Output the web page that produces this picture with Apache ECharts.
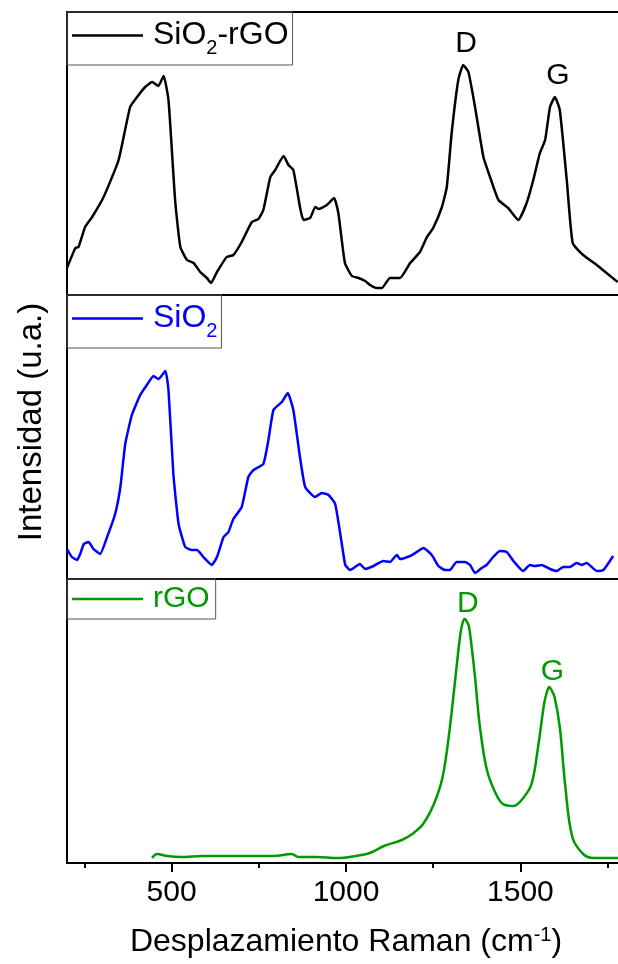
<!DOCTYPE html>
<html>
<head>
<meta charset="utf-8">
<script src="https://cdn.jsdelivr.net/npm/echarts@6/dist/echarts.min.js"></script>
<style>
  html, body { margin: 0; padding: 0; background: #fff; }
  #chart { width: 618px; height: 964px; }
</style>
</head>
<body>
<div id="chart"></div>
<script>
// Raman shift (cm-1) and intensity (a.u.)
const sio2rgoX = [200,224,233,252,272,305,348,381,401,424,444,462,477,491,510,525,544,563,582,601,613,630,658,677,701,730,749,763,783,797,821,835,849,868,878,897,912,921,945,966,978,997,1017,1036,1055,1069,1088,1103,1126,1155,1184,1212,1232,1250,1275,1289,1303,1322,1336,1351,1370,1394,1413,1437,1465,1494,1518,1537,1556,1571,1585,1599,1613,1633,1650,1680,1719,1747,1779];
const sio2rgoY = [27,47,48,68,78,98,135,188,198,208,213,209,219,195,95,48,35,32,23,17,12,23,38,40,53,73,76,85,118,125,139,130,125,88,75,77,88,86,90,97,82,32,19,17,14,10,7,7,17,17,32,43,58,67,88,108,162,215,230,223,188,138,118,95,87,75,92,115,142,155,188,198,185,115,52,40,30,22,13];

const sio2X = [200,214,229,238,248,262,276,295,315,338,353,367,386,410,429,448,462,482,491,505,520,539,558,573,591,615,630,649,663,677,701,720,735,763,778,792,816,833,849,868,883,911,931,950,969,988,998,1012,1040,1055,1079,1107,1126,1146,1155,1184,1203,1222,1246,1265,1284,1298,1317,1341,1356,1370,1389,1403,1422,1441,1461,1480,1508,1527,1542,1561,1585,1604,1623,1642,1661,1676,1690,1719,1738,1766];
const sio2Y = [30,22,19,25,35,37,30,25,42,65,92,135,164,184,194,203,200,208,189,105,55,32,29,29,22,14,22,42,47,60,72,102,109,115,140,169,177,186,169,122,92,82,86,84,75,35,14,9,15,10,13,18,17,24,20,23,27,31,24,13,9,9,17,17,14,6,11,14,22,28,27,18,8,14,13,14,10,8,12,12,16,14,16,8,9,23];

const rgoX = [444,458,487,528,589,660,732,793,844,864,915,976,1027,1068,1109,1160,1190,1221,1252,1277,1297,1313,1328,1335,1341,1347,1353,1369,1384,1404,1430,1450,1481,1506,1532,1552,1568,1577,1583,1589,1598,1613,1629,1649,1680,1710,1741,1780];
const rgoY = [5,9,7,6,7,7,7,7,9,6,6,5,7,10,17,23,29,39,59,86,133,183,229,241,244,241,236,189,136,93,69,59,57,64,79,119,159,172,176,173,166,136,76,26,9,5,5,5];

// peak labels: [label, index of the peak point]
const sio2rgoPeaks = [['D', 58], ['G', 71]];
const rgoPeaks = [['D', 24], ['G', 38]];

const majorTicks = [500, 1000, 1500];
const minorTicks = [250, 750, 1250, 1750];
const xMin = 200, xMax = 1800;

const FONT = 'Arial, "Liberation Sans", sans-serif';
const cBlack = '#000000', cBlue = '#0000ff', cGreen = '#009900';

function zip(xs, ys) {
    return xs.map(function (x, i) { return [x, ys[i]]; });
}

function peakPoints(xs, ys, peaks, dist) {
    return peaks.map(function (p) {
        return {
            name: p[0],
            coord: [xs[p[1]], ys[p[1]]],
            label: { distance: dist }
        };
    });
}

function legendFor(name, color, top, pad, size) {
    return {
        show: true,
        selectedMode: false,
        left: 67,
        top: top,
        orient: 'horizontal',
        padding: pad,
        borderColor: '#555',
        borderWidth: 1,
        icon: 'rect',
        itemWidth: 71,
        itemHeight: 2.5,
        data: [name],
        formatter: function (n) {
            if (n === 'SiO2-rGO') return '{m|SiO}{s|2}{m|-rGO}';
            if (n === 'SiO2') return '{m|SiO}{s|2}';
            return '{m|' + n + '}';
        },
        textStyle: {
            color: color,
            fontFamily: FONT,
            fontSize: size,
            padding: [0, 0, 0, 5],
            rich: {
                m: { fontSize: size, lineHeight: 34, color: color, fontFamily: FONT },
                s: { fontSize: 20, lineHeight: 34, color: color, fontFamily: FONT, padding: [25, 0, 0, 0] }
            }
        }
    };
}

const grids = [
    { left: 67, top: 12, width: 558, height: 283 },
    { left: 67, top: 295, width: 558, height: 284 },
    { left: 67, top: 579, width: 558, height: 284 }
].map(function (g) {
    return Object.assign(g, {
        show: true, borderColor: '#000', borderWidth: 2,
        backgroundColor: 'transparent', containLabel: false, outerBoundsMode: 'none'
    });
});

let chart = echarts.init(document.getElementById('chart'), null, { renderer: 'canvas' });

let option = {
    backgroundColor: '#fff',
    animation: false,
    grid: grids,
    legend: [
        legendFor('SiO2-rGO', cBlack, 12, [1, 4, 7, 5], 32),
        legendFor('SiO2', cBlue, 295, [1, 4, 7, 5], 32),
        legendFor('rGO', cGreen, 579, [5, 6, 5, 5], 30)
    ],
    xAxis: [
        { gridIndex: 0, type: 'value', min: xMin, max: xMax, show: false },
        { gridIndex: 1, type: 'value', min: xMin, max: xMax, show: false },
        {
            gridIndex: 2, type: 'value', min: xMin, max: xMax, position: 'bottom',
            axisLine: { show: true, lineStyle: { color: '#000', width: 2 } },
            axisTick: { show: true, customValues: majorTicks, length: 9, lineStyle: { color: '#000', width: 2 } },
            axisLabel: {
                show: true, customValues: majorTicks, margin: 15, color: '#000', fontSize: 30, fontFamily: FONT,
                formatter: function (v) { return String(v); }
            },
            splitLine: { show: false },
            name: '{t|Desplazamiento Raman (cm}{u|-1}{t|)}',
            nameLocation: 'middle',
            nameGap: 61,
            nameTextStyle: {
                color: '#000',
                fontFamily: FONT,
                rich: {
                    t: { fontSize: 32, lineHeight: 36, color: '#000', fontFamily: FONT },
                    u: { fontSize: 20, lineHeight: 36, color: '#000', fontFamily: FONT, padding: [0, 0, 14, 0] }
                }
            }
        },
        {
            gridIndex: 2, type: 'value', min: xMin, max: xMax, position: 'bottom', offset: 0,
            axisLine: { show: false },
            axisTick: { show: true, customValues: minorTicks, length: 5, lineStyle: { color: '#000', width: 2 } },
            axisLabel: { show: false },
            splitLine: { show: false }
        }
    ],
    yAxis: [
        { gridIndex: 0, type: 'value', min: 0, max: 283, show: false },
        { gridIndex: 1, type: 'value', min: 0, max: 284, show: false },
        { gridIndex: 2, type: 'value', min: 0, max: 284, show: false }
    ],
    graphic: [{
        type: 'text',
        x: 32,
        y: 422,
        rotation: Math.PI / 2,
        style: {
            text: 'Intensidad (u.a.)',
            fill: '#000',
            font: '33px ' + FONT,
            align: 'center',
            verticalAlign: 'middle'
        }
    }],
    series: [
        {
            name: 'SiO2-rGO', type: 'line', xAxisIndex: 0, yAxisIndex: 0,
            data: zip(sio2rgoX, sio2rgoY),
            showSymbol: false, smooth: 0.15,
            lineStyle: { color: cBlack, width: 2.5 }, itemStyle: { color: cBlack },
            markPoint: {
                symbol: 'circle', symbolSize: 1, silent: true,
                itemStyle: { color: 'rgba(0,0,0,0)' },
                label: { show: true, position: 'top', formatter: '{b}', color: cBlack, fontSize: 30, fontFamily: FONT, offset: [3, 0] },
                data: peakPoints(sio2rgoX, sio2rgoY, sio2rgoPeaks, 6)
            }
        },
        {
            name: 'SiO2', type: 'line', xAxisIndex: 1, yAxisIndex: 1,
            data: zip(sio2X, sio2Y),
            showSymbol: false, smooth: 0.15,
            lineStyle: { color: cBlue, width: 2.5 }, itemStyle: { color: cBlue }
        },
        {
            name: 'rGO', type: 'line', xAxisIndex: 2, yAxisIndex: 2,
            data: zip(rgoX, rgoY),
            showSymbol: false, smooth: 0.35,
            lineStyle: { color: cGreen, width: 2.5 }, itemStyle: { color: cGreen },
            markPoint: {
                symbol: 'circle', symbolSize: 1, silent: true,
                itemStyle: { color: 'rgba(0,0,0,0)' },
                label: { show: true, position: 'top', formatter: '{b}', color: cGreen, fontSize: 30, fontFamily: FONT, offset: [3, 0] },
                data: peakPoints(rgoX, rgoY, rgoPeaks, 0)
            }
        }
    ]
};

chart.setOption(option);
</script>
</body>
</html>
